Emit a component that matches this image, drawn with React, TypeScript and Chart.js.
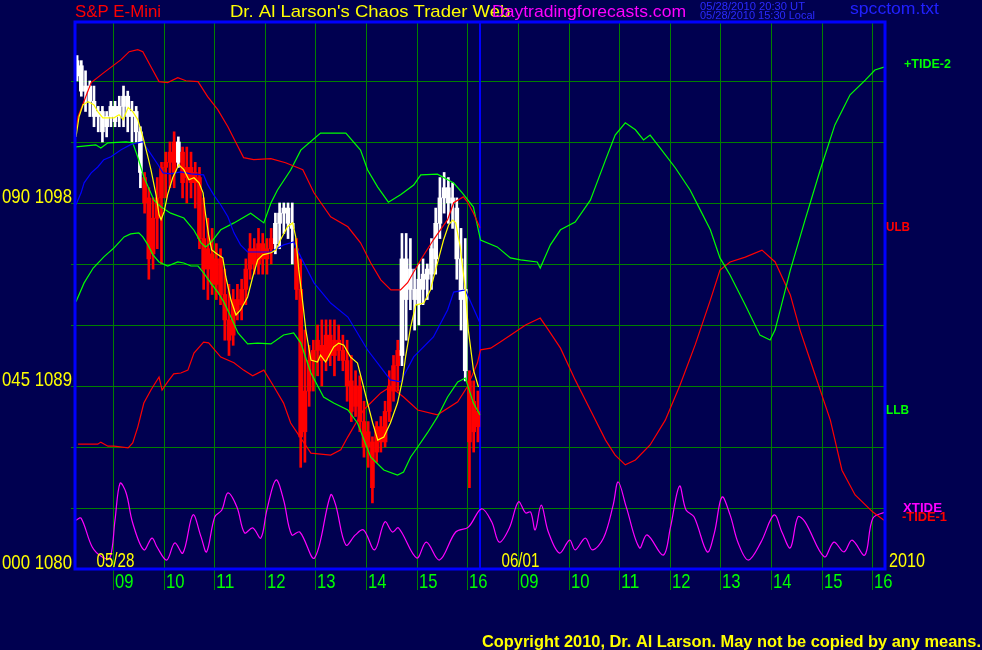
import React, { useEffect, useRef } from 'react';
import { Chart, registerables } from 'chart.js';

Chart.register(...registerables);

// ---------------- data ----------------
const priceMin = 1080;
const priceMax = 1106.9;
const tideMin = 0;
const tideMax = 134.5;
const sessionHours = 16;
const barMinutes = 5;
const sessionBreak = 8;

const priceGridLines = [1083, 1086, 1089, 1092, 1095, 1098, 1101, 1104];
const axisTideLabels = ['000', '045', '090'];
const axisPriceLabels = [1080, 1089, 1098];
const hourTicks = [0.75, 1.75, 2.75, 3.75, 4.75, 5.75, 6.75, 7.75, 8.75, 9.75, 10.75, 11.75, 12.75, 13.75, 14.75, 15.75];
const hourLabels = ['09', '10', '11', '12', '13', '14', '15', '16', '09', '10', '11', '12', '13', '14', '15', '16'];
const dateTicks = [0.75, 8.75];
const dateLabels = ['05/28', '06/01'];
const yearLabel = '2010';

// 5-minute bars of the 05/28 session
const barOpen = [
  1104.25, 1104.75, 1103.5, 1103.75, 1103, 1102.25, 1102.5, 1101.75, 1102.25, 1102.75,
  1102.25, 1102.75, 1103.25, 1102.25, 1102.5, 1101.5, 1099.25, 1098.25, 1095.5, 1097.25,
  1098.25, 1099.75, 1100, 1101, 1100, 1100.5, 1099.25, 1099.75, 1099, 1099.25,
  1096.25, 1094.75, 1095.5, 1094, 1095.25, 1093.5, 1092.25, 1091.5, 1093.25, 1093,
  1093.75, 1094.75, 1095.75, 1095, 1096, 1095.25, 1095.75, 1096, 1097, 1097.5,
  1097.75, 1097, 1095.75, 1093.75, 1086.75, 1088.75, 1090.25, 1090.75, 1091, 1090.25,
  1091.5, 1090.5, 1091.25, 1090.75, 1090.25, 1089.25, 1088, 1089, 1087.25, 1086,
  1086.25, 1085.75, 1087, 1086.25, 1087.75, 1088.75, 1090, 1090.5, 1093.25, 1094.75,
  1093.75, 1093, 1093.75, 1094.25, 1094.5, 1095.25, 1097, 1098.25, 1098.75, 1098,
  1097.75, 1095.25, 1093.75, 1089.25, 1086.75, 1087.75,
];
const barHigh = [
  1105.25, 1105, 1104.5, 1104, 1103.75, 1102.75, 1102.75, 1102.5, 1103, 1103,
  1103.25, 1103.75, 1103.5, 1103, 1102.75, 1101.75, 1099.5, 1098.75, 1098.25, 1099.25,
  1100, 1100.5, 1101, 1101.5, 1101.25, 1100.75, 1100.75, 1100.5, 1100, 1099.75,
  1098.25, 1097.25, 1096.75, 1096, 1095.75, 1094.75, 1094, 1093.75, 1094, 1094.25,
  1095.25, 1096.5, 1096.25, 1096.75, 1096.5, 1096.25, 1096.75, 1097.5, 1098, 1098,
  1098, 1098, 1096.25, 1095.25, 1091.75, 1091, 1091.25, 1092, 1092.25, 1092.25,
  1092.25, 1092.25, 1092, 1091.5, 1091.25, 1090.5, 1089.75, 1089.5, 1088.25, 1087.25,
  1086.5, 1087.25, 1087.5, 1088.25, 1089.75, 1090.5, 1091.25, 1096.5, 1096.5, 1096.25,
  1094.75, 1095, 1095.25, 1095, 1096.25, 1097.75, 1099.25, 1099.5, 1099.25, 1099,
  1098.25, 1096.75, 1096.25, 1089.75, 1089.25, 1088.75,
];
const barLow = [
  1104, 1103.25, 1102.5, 1102.25, 1101.75, 1101.5, 1101, 1101.25, 1101.75, 1101.75,
  1101.75, 1101.75, 1101.5, 1101, 1101, 1098.75, 1097.5, 1094.25, 1094.75, 1095.75,
  1095, 1098.25, 1098.75, 1098.75, 1099.75, 1098.25, 1098, 1098.25, 1097.75, 1095.75,
  1093.75, 1093.25, 1093.5, 1093.25, 1093, 1091.25, 1090.5, 1091, 1092.25, 1092.25,
  1093, 1094.25, 1094.5, 1094.5, 1094.5, 1094.5, 1095, 1095.5, 1095.75, 1096.5,
  1096.25, 1095, 1093.25, 1085, 1085.25, 1088, 1088.75, 1089.5, 1089, 1089.75,
  1090, 1089.5, 1090.25, 1089.75, 1088.25, 1087.25, 1087.5, 1086.75, 1085.5, 1085,
  1083.25, 1085.25, 1085.75, 1086, 1087.25, 1088.25, 1088.75, 1090, 1091.25, 1092.75,
  1091.75, 1092, 1093, 1093.25, 1093.75, 1094.5, 1096.25, 1097.5, 1097, 1096.75,
  1094.25, 1091.75, 1089.25, 1084, 1085.75, 1086.25,
];
const barClose = [
  1105, 1103.5, 1103.75, 1103, 1102.25, 1102.5, 1101.5, 1102.25, 1102.75, 1102,
  1102.75, 1103.25, 1102.25, 1102.5, 1101.5, 1099.5, 1098, 1095.25, 1097.25, 1098.25,
  1099.75, 1100, 1100.5, 1099.5, 1101, 1099, 1099.75, 1099, 1099.5, 1096.25,
  1094.75, 1095.75, 1094, 1095.25, 1093.5, 1092.25, 1091.25, 1093.25, 1092.75, 1093.75,
  1094.75, 1095.75, 1095, 1096, 1095.25, 1095.75, 1096.25, 1097, 1097.5, 1097.75,
  1097, 1096.75, 1093.75, 1086.5, 1088.75, 1090.25, 1090.75, 1091.25, 1090.25, 1091.5,
  1090.5, 1091.25, 1090.75, 1090.25, 1089, 1087.75, 1089, 1087.25, 1086, 1086.75,
  1084, 1087, 1086.25, 1087.75, 1089, 1090, 1090.75, 1095.25, 1095.25, 1093.75,
  1093.25, 1094.25, 1094.5, 1094.75, 1095.75, 1097, 1098.25, 1098.75, 1098, 1098.25,
  1095.25, 1093.25, 1089.75, 1086.25, 1088.25, 1087,
];
// trend state of the bars: w = up trend (white), r = down trend (red)
const trendRuns: [string, number][] = [['w', 16], ['r', 8], ['w', 1], ['r', 22], ['w', 5], ['r', 25], ['w', 16], ['r', 3]];

// [hour, price]
const yellowMA = [[0.02,1101.25],[0.08,1102.24],[0.16,1102.83],[0.26,1102.98],[0.37,1102.83],[0.45,1102.49],[0.55,1102.19],[0.77,1102.19],[0.87,1102.34],[0.95,1102.10],[1.05,1102.69],[1.14,1102.49],[1.24,1102.10],[1.34,1101.26],[1.44,1100.27],[1.50,1099.64],[1.60,1098.41],[1.66,1097.42],[1.70,1097.18],[1.76,1097.57],[1.83,1098.41],[1.93,1099.24],[2.05,1099.88],[2.15,1099.64],[2.25,1099.14],[2.35,1099.24],[2.45,1098.99],[2.53,1098.50],[2.58,1097.42],[2.64,1096.43],[2.70,1095.69],[2.80,1095.50],[2.92,1095.30],[2.98,1094.36],[3.08,1093.23],[3.18,1092.49],[3.27,1092.74],[3.41,1093.38],[3.51,1094.36],[3.61,1095.20],[3.71,1095.45],[3.87,1095.55],[3.97,1095.69],[4.06,1096.19],[4.20,1096.83],[4.30,1097.02],[4.36,1096.33],[4.42,1094.71],[4.50,1093.08],[4.56,1091.75],[4.66,1090.28],[4.79,1090.18],[4.85,1090.52],[4.95,1090.18],[5.11,1090.92],[5.21,1091.11],[5.31,1091.01],[5.44,1090.43],[5.58,1090.13],[5.68,1089.15],[5.78,1088.16],[5.88,1087.18],[5.98,1086.34],[6.10,1086.49],[6.23,1087.18],[6.37,1088.16],[6.47,1089.30],[6.53,1090.43],[6.63,1091.90],[6.73,1092.98],[6.89,1093.08],[7.02,1093.72],[7.16,1095.05],[7.28,1096.18],[7.38,1096.92],[7.46,1097.16],[7.52,1097.02],[7.61,1095.84],[7.71,1093.72],[7.77,1091.75],[7.87,1089.79],[7.97,1088.95]];
const blueMA = [[0.02,1097.91],[0.12,1098.50],[0.18,1098.99],[0.32,1099.48],[0.45,1099.77],[0.57,1100.13],[0.71,1100.27],[0.91,1100.62],[1.10,1100.87],[1.24,1100.96],[1.34,1101.01],[1.44,1100.62],[1.64,1099.88],[1.74,1099.48],[1.89,1099.43],[2.09,1099.53],[2.29,1099.43],[2.54,1099.38],[2.62,1098.90],[2.74,1098.40],[2.88,1097.90],[3.02,1097.32],[3.14,1096.53],[3.27,1095.94],[3.41,1095.59],[3.61,1095.59],[3.87,1095.59],[4.12,1095.94],[4.32,1096.08],[4.46,1095.35],[4.72,1094.07],[5.05,1093.08],[5.39,1092.39],[5.78,1090.77],[6.23,1089.30],[6.43,1089.20],[6.69,1090.43],[7.08,1091.41],[7.36,1092.74],[7.48,1093.62],[7.71,1093.72],[8.0,1092.10]];
const upperBand = [[0.02,1101.6],[0.06,1102.24],[0.32,1103.92],[0.57,1104.41],[0.91,1105.05],[1.07,1105.44],[1.24,1105.54],[1.34,1105.44],[1.50,1104.70],[1.66,1103.97],[1.83,1103.92],[2.03,1104.16],[2.19,1104.01],[2.43,1103.97],[2.62,1103.23],[2.82,1102.59],[3.02,1101.75],[3.22,1100.77],[3.33,1100.23],[3.53,1100.13],[3.87,1100.18],[4.16,1099.98],[4.50,1099.64],[4.72,1098.50],[5.05,1097.32],[5.39,1096.83],[5.64,1096.04],[5.84,1095.06],[6.04,1094.22],[6.24,1093.73],[6.43,1093.73],[6.57,1094.08],[6.83,1095.21],[7.08,1096.19],[7.36,1097.18],[7.48,1098.01],[7.67,1098.30],[7.75,1098.06],[7.87,1097.51],[8.0,1096.78]];
const lowerBand = [[0.02,1093.14],[0.18,1094.07],[0.36,1094.80],[0.57,1095.35],[0.77,1095.79],[0.97,1096.33],[1.10,1096.48],[1.26,1096.53],[1.34,1096.33],[1.44,1095.94],[1.54,1095.45],[1.66,1095.10],[1.83,1094.90],[2.03,1095.10],[2.15,1095.05],[2.29,1094.90],[2.43,1094.90],[2.54,1094.56],[2.68,1094.07],[2.82,1093.62],[2.94,1093.13],[3.08,1092.39],[3.22,1091.61],[3.41,1091.07],[3.61,1091.11],[3.87,1091.07],[4.12,1091.51],[4.32,1091.61],[4.46,1091.11],[4.66,1089.64],[4.91,1088.46],[5.11,1088.16],[5.39,1087.82],[5.58,1087.18],[5.84,1085.51],[6.10,1084.87],[6.37,1084.62],[6.49,1084.77],[6.63,1085.51],[6.77,1086.00],[6.96,1086.69],[7.16,1087.48],[7.36,1088.46],[7.56,1089.20],[7.71,1089.39],[7.87,1088.16],[8.0,1087.57]];
// [hour, tide]
const tidePlus2 = [[0.02,103.8],[0.41,104.3],[0.51,103.5],[0.65,104.8],[1.01,105.0],[1.14,104.8],[1.24,101.3],[1.36,96.4],[1.56,90.7],[1.70,89.0],[1.89,87.5],[2.15,86.3],[2.35,83.3],[2.49,80.2],[2.58,79.2],[2.68,80.2],[2.88,83.4],[3.14,85.1],[3.47,87.5],[3.73,85.1],[3.87,90.0],[4.00,93.2],[4.26,98.1],[4.46,103.0],[4.85,107.2],[5.35,107.2],[5.64,103.0],[5.78,98.1],[5.98,93.9],[6.19,90.2],[6.43,92.0],[6.69,94.4],[6.83,96.9],[7.16,97.1],[7.48,94.9],[7.65,92.5],[7.87,89.0],[8.01,80.9],[8.34,79.2],[8.60,76.5],[8.80,76.0],[9.13,75.5],[9.19,74.0],[9.39,79.7],[9.59,83.4],[9.88,85.3],[10.18,90.7],[10.48,100.6],[10.67,106.7],[10.87,109.7],[11.07,108.0],[11.23,105.5],[11.36,106.7],[11.56,103.5],[11.86,98.6],[12.15,93.2],[12.35,88.3],[12.55,83.4],[12.74,76.5],[12.94,72.3],[13.24,64.9],[13.53,57.5],[13.73,56.3],[13.83,58.8],[14.13,73.5],[14.42,85.8],[14.72,98.1],[15.01,109.2],[15.31,116.6],[15.61,120.2],[15.80,122.7],[15.98,123.4]];
const tideMinus1 = [[0.06,30.7],[0.45,30.7],[0.51,31.2],[0.65,30.2],[0.77,30.2],[1.05,29.8],[1.14,31.0],[1.24,34.9],[1.36,40.8],[1.50,44.0],[1.66,47.2],[1.72,44.0],[1.83,46.0],[1.95,48.0],[2.09,48.2],[2.23,48.9],[2.35,53.1],[2.54,55.8],[2.64,55.6],[2.88,52.1],[3.14,50.7],[3.33,48.9],[3.51,47.5],[3.73,48.9],[3.93,44.8],[4.12,40.8],[4.26,35.9],[4.46,32.2],[4.66,28.5],[5.05,28.0],[5.25,29.3],[5.39,32.5],[5.70,39.1],[6.04,43.3],[6.23,44.8],[6.49,42.3],[6.77,39.1],[7.16,37.9],[7.56,41.1],[7.75,44.8],[7.95,50.7],[8.01,53.9],[8.21,54.3],[8.40,55.8],[8.60,57.5],[8.90,60.0],[9.19,61.7],[9.35,58.8],[9.59,54.3],[9.88,46.5],[10.18,39.1],[10.48,31.7],[10.67,28.0],[10.87,25.6],[11.07,26.8],[11.36,30.5],[11.66,36.6],[11.95,45.2],[12.25,55.1],[12.55,66.1],[12.74,73.5],[12.94,75.5],[13.24,76.7],[13.57,78.4],[13.83,75.5],[14.13,67.4],[14.32,58.8],[14.62,47.7],[14.92,36.6],[15.15,24.3],[15.41,18.2],[15.76,14.0],[15.98,12.0]];
const xTide = [[0.02,12.0],[0.12,12.5],[0.34,5.4],[0.53,3.0],[0.69,2.7],[0.79,12.0],[0.89,21.1],[1.01,18.7],[1.14,11.3],[1.36,4.7],[1.52,7.6],[1.62,5.4],[1.81,2.2],[1.97,6.4],[2.13,3.9],[2.33,13.3],[2.49,7.9],[2.60,4.2],[2.76,12.8],[2.90,14.5],[3.02,18.7],[3.20,15.2],[3.35,8.9],[3.51,10.1],[3.67,7.6],[3.79,14.5],[3.97,21.9],[4.12,17.0],[4.28,8.4],[4.44,9.1],[4.73,2.7],[5.05,18.2],[5.15,15.7],[5.35,5.9],[5.54,8.4],[5.70,9.6],[5.92,4.7],[6.12,11.6],[6.27,9.1],[6.39,10.1],[6.75,2.7],[6.94,6.6],[7.20,2.2],[7.52,9.1],[7.77,10.3],[8.03,14.8],[8.23,11.6],[8.38,6.6],[8.58,10.1],[8.76,16.5],[8.90,13.8],[9.00,14.0],[9.09,9.6],[9.21,15.7],[9.35,9.1],[9.57,3.9],[9.77,7.1],[9.88,4.7],[10.08,7.6],[10.22,4.7],[10.44,7.6],[10.63,15.7],[10.73,21.4],[10.89,15.2],[11.15,5.2],[11.30,8.4],[11.62,3.4],[11.76,10.1],[11.94,20.4],[12.07,14.5],[12.23,12.8],[12.49,4.2],[12.63,8.9],[12.78,17.7],[12.94,13.3],[13.10,6.4],[13.30,2.2],[13.55,6.6],[13.81,13.3],[13.97,8.9],[14.13,5.2],[14.28,12.8],[14.42,11.6],[14.80,3.0],[14.99,6.6],[15.19,4.2],[15.35,7.1],[15.60,3.4],[15.76,12.5],[16.00,14.0]];

// ---------------- styles ----------------
const BG = '#000050';
const GRID = '#008000';
const BLUE = '#0000ff';
const RED = '#ff0000';
const GREEN = '#00ff00';
const YELLOW = '#ffff00';
const MAGENTA = '#ff00ff';
const WHITE = '#ffffff';
const FONT = '"Liberation Sans", Arial, Helvetica, sans-serif';

function fitText(ctx: CanvasRenderingContext2D, text: string, x: number, y: number, width: number, font: string, color: string, align: CanvasTextAlign = 'left') {
  ctx.save();
  ctx.font = font;
  ctx.fillStyle = color;
  ctx.textBaseline = 'alphabetic';
  ctx.textAlign = align;
  const w = ctx.measureText(text).width || 1;
  ctx.translate(x, y);
  ctx.scale(width / w, 1);
  ctx.fillText(text, 0, 0);
  ctx.restore();
}

const decorPlugin = {
  id: 'decor',
  beforeDraw(chart: any) {
    const { ctx, width, height } = chart;
    ctx.save();
    ctx.fillStyle = BG;
    ctx.fillRect(0, 0, width, height);
    ctx.restore();
  },
  beforeDatasetsDraw(chart: any) {
    const { ctx, chartArea: a, scales } = chart;
    const xs = scales.x, ys = scales.y;
    ctx.save();
    ctx.strokeStyle = GRID;
    ctx.lineWidth = 1;
    ctx.beginPath();
    for (const v of priceGridLines) {
      const py = Math.round(ys.getPixelForValue(v)) + 0.5;
      ctx.moveTo(71, py);
      ctx.lineTo(a.right, py);
    }
    for (const h of hourTicks) {
      const px = Math.round(xs.getPixelForValue(h)) + 0.5;
      ctx.moveTo(px, a.top);
      ctx.lineTo(px, 590);
    }
    ctx.stroke();
    ctx.strokeStyle = BLUE;
    ctx.lineWidth = 2;
    const sx = Math.round(xs.getPixelForValue(sessionBreak));
    ctx.beginPath();
    ctx.moveTo(sx, a.top);
    ctx.lineTo(sx, a.bottom);
    ctx.stroke();
    ctx.restore();
  },
  afterDraw(chart: any) {
    const { ctx, chartArea: a, scales } = chart;
    const xs = scales.x, ys = scales.y;
    ctx.save();
    ctx.strokeStyle = BLUE;
    ctx.lineWidth = 3;
    ctx.strokeRect(a.left, a.top, a.right - a.left, a.bottom - a.top);
    ctx.restore();

    // header
    fitText(ctx, 'S&P E-Mini', 75, 17, 86, `17px ${FONT}`, RED);
    {
      const title = "Dr. Al Larson's Chaos Trader Web";
      ctx.save();
      ctx.font = `17px ${FONT}`;
      const pre = ctx.measureText("Dr. Al Larson's Chaos Trader We").width;
      const full = ctx.measureText(title).width;
      ctx.restore();
      fitText(ctx, title, 230, 17, (270 * full) / pre, `17px ${FONT}`, YELLOW);
    }
    fitText(ctx, 'Daytradingforecasts.com', 492, 17, 194, `17px ${FONT}`, MAGENTA);
    fitText(ctx, '05/28/2010 20:30 UT', 700, 10, 105, `10px ${FONT}`, '#2a2aff');
    fitText(ctx, '05/28/2010 15:30 Local', 700, 19, 115, `10px ${FONT}`, '#2a2aff');
    fitText(ctx, 'spcctom.txt', 850, 14, 89, `16px ${FONT}`, '#2020ff');

    // left axis labels
    axisPriceLabels.forEach((p, i) => {
      const py = ys.getPixelForValue(p);
      fitText(ctx, `${axisTideLabels[i]} ${p}`, 72, py, 70, `21px ${FONT}`, YELLOW, 'right');
    });

    // bottom hour labels
    hourTicks.forEach((h, i) => {
      const px = Math.round(xs.getPixelForValue(h));
      fitText(ctx, hourLabels[i], px + 2, 588, 18.5, `21px ${FONT}`, GREEN);
    });
    dateTicks.forEach((h, i) => {
      const px = xs.getPixelForValue(h);
      fitText(ctx, dateLabels[i], px + 2.5, 567, 38, `20px ${FONT}`, YELLOW, 'center');
    });
    fitText(ctx, yearLabel, 889, 567, 36, `20px ${FONT}`, YELLOW);

    // right side series labels
    fitText(ctx, '+TIDE-2', 904, 68, 47, `bold 13px ${FONT}`, GREEN);
    fitText(ctx, 'ULB', 886, 231, 24, `bold 13px ${FONT}`, RED);
    fitText(ctx, 'LLB', 886, 414, 23, `bold 13px ${FONT}`, GREEN);
    fitText(ctx, 'XTIDE', 903, 512, 39, `bold 13px ${FONT}`, MAGENTA);
    fitText(ctx, '-TIDE-1', 902, 521, 45, `bold 13px ${FONT}`, RED);

    // footer
    fitText(ctx, 'Copyright 2010, Dr. Al Larson. May not be copied by any means.', 981, 647, 499, `bold 16px ${FONT}`, YELLOW, 'right');
  },
};

function lineDs(label: string, pts: number[][], color: string, axis: string, order: number, tension = 0) {
  return {
    type: 'line' as const,
    label,
    data: pts.map(([x, y]) => ({ x, y })),
    borderColor: color,
    backgroundColor: color,
    borderWidth: 1.2,
    pointRadius: 0,
    pointHoverRadius: 0,
    fill: false,
    tension,
    yAxisID: axis,
    xAxisID: 'x',
    order,
  };
}

export default function App() {
  const ref = useRef<HTMLCanvasElement>(null);

  useEffect(() => {
    const canvas = ref.current;
    if (!canvas) return;
    const trend: string[] = trendRuns.flatMap(([t, n]) => Array(n).fill(t));
    const colors = trend.map((t) => (t === 'w' ? WHITE : RED));
    const barX = barOpen.map((_, i) => ((i + 0.5) * barMinutes) / 60);

    const chart = new Chart(canvas, {
      type: 'line',
      data: {
        datasets: [
          lineDs('Yellow', yellowMA, YELLOW, 'y', 1),
          lineDs('Blue', blueMA, BLUE, 'y', 2),
          lineDs('ULB', upperBand, RED, 'y', 3),
          lineDs('LLB', lowerBand, GREEN, 'y', 4),
          lineDs('+TIDE-2', tidePlus2, GREEN, 'y2', 5),
          lineDs('-TIDE-1', tideMinus1, RED, 'y2', 6),
          lineDs('XTIDE', xTide, MAGENTA, 'y2', 7, 0.35),
          {
            type: 'bar' as const,
            label: 'body',
            data: barX.map((x, i) => ({ x, y: [barOpen[i], barClose[i]] })),
            backgroundColor: colors,
            borderWidth: 0,
            barThickness: 4,
            minBarLength: 1,
            grouped: false,
            yAxisID: 'y',
            xAxisID: 'x',
            order: 10,
          },
          {
            type: 'bar' as const,
            label: 'range',
            data: barX.map((x, i) => ({ x, y: [barLow[i], barHigh[i]] })),
            backgroundColor: colors,
            borderWidth: 0,
            barThickness: 2,
            grouped: false,
            yAxisID: 'y',
            xAxisID: 'x',
            order: 11,
          },
        ] as any,
      },
      options: {
        animation: false,
        responsive: false,
        devicePixelRatio: 1,
        layout: { padding: { left: 75, right: 97, top: 22, bottom: 81 } },
        plugins: { legend: { display: false }, tooltip: { enabled: false } },
        events: [],
        scales: {
          x: { type: 'linear', min: 0, max: sessionHours, display: false, offset: false },
          y: { type: 'linear', min: priceMin, max: priceMax, display: false },
          y2: { type: 'linear', min: tideMin, max: tideMax, display: false, position: 'right' },
        },
      } as any,
      plugins: [decorPlugin],
    });
    return () => chart.destroy();
  }, []);

  return (
    <div style={{ position: 'fixed', left: 0, top: 0, width: 982, height: 650, background: BG }}>
      <canvas ref={ref} width={982} height={650} style={{ display: 'block', width: 982, height: 650 }} />
    </div>
  );
}
